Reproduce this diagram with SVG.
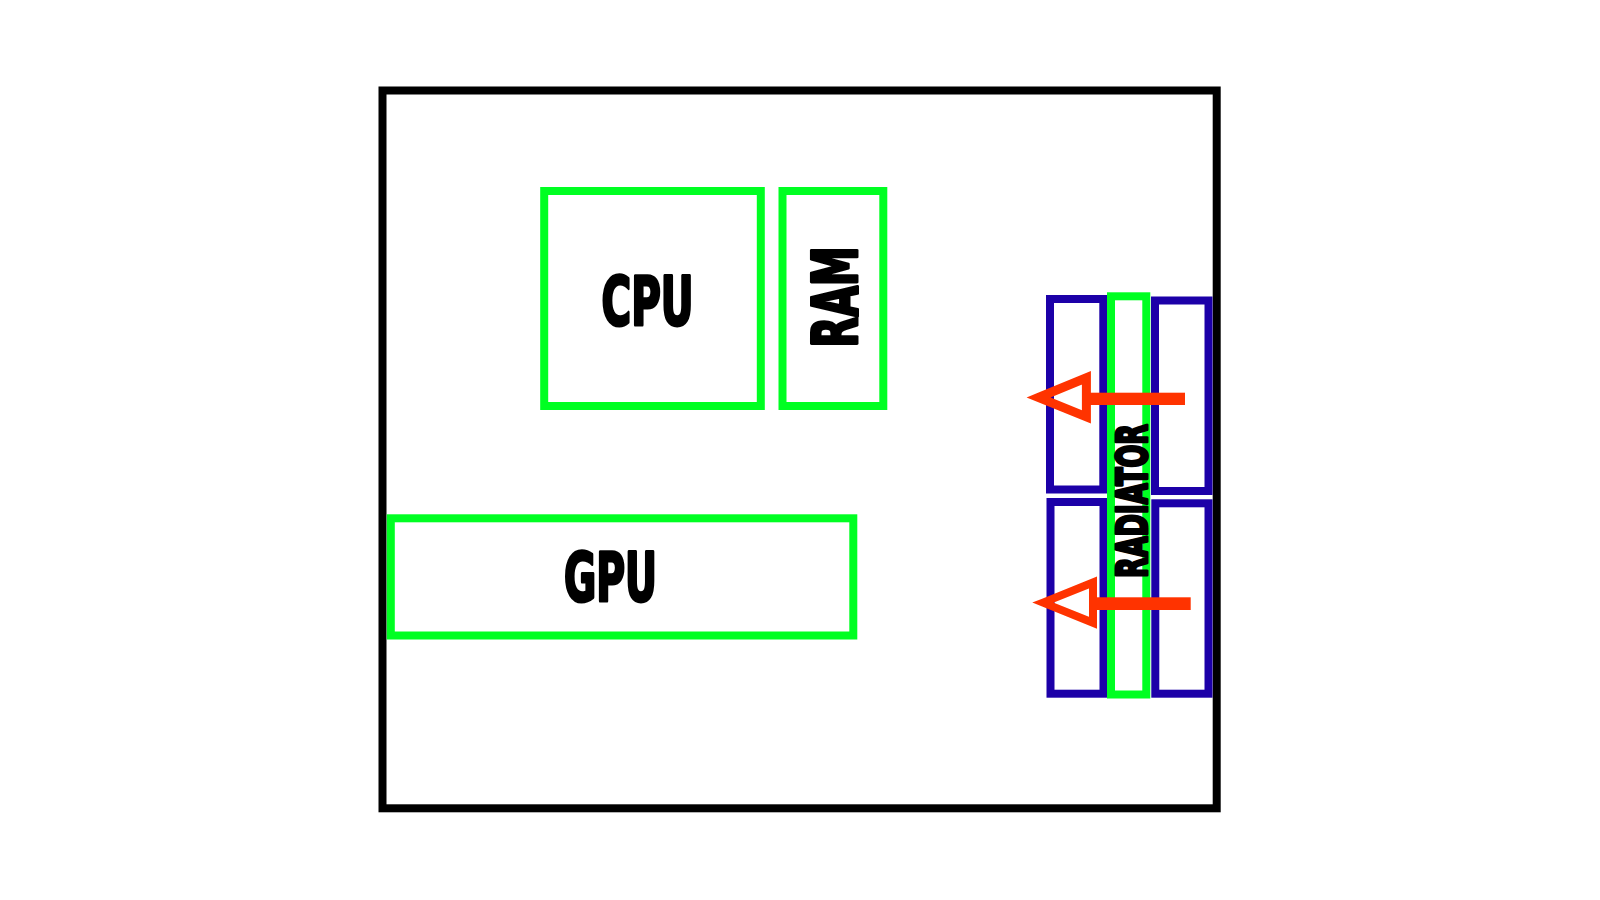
<svg xmlns="http://www.w3.org/2000/svg" width="1600" height="900" viewBox="0 0 1600 900">
  <style>
    .case { fill: none; stroke: #000000; stroke-width: 8; }
    .part { fill: none; stroke: #00ff22; stroke-width: 8; }
    .fan { fill: none; stroke: #1c00a8; stroke-width: 8; }
    .shaft { fill: #ff3300; stroke: none; }
    .head { fill: none; stroke: #ff3300; stroke-linejoin: miter; stroke-miterlimit: 20; }
    .lbl { font-family: "Liberation Sans Narrow", "DejaVu Sans Condensed", "Liberation Sans", sans-serif; font-weight: 900; fill: #000000; stroke: #000000; stroke-width: 3; stroke-linejoin: round; text-anchor: middle; }
  </style>
  <rect x="0" y="0" width="1600" height="900" fill="#ffffff"/>

  <g id="case">
    <rect class="case" x="382.5" y="90.5" width="834.2" height="717.8"/>
  </g>

  <g id="cpu">
    <rect class="part" x="544.2" y="191" width="216.6" height="215"/>
    <text class="lbl" x="647.5" y="325" font-size="67" textLength="92" lengthAdjust="spacingAndGlyphs">CPU</text>
  </g>

  <g id="ram">
    <rect class="part" x="782.5" y="191" width="100.8" height="215"/>
    <text class="lbl" transform="translate(856.8,297) rotate(-90)" x="0" y="0" font-size="63" textLength="101" lengthAdjust="spacingAndGlyphs">RAM</text>
  </g>

  <g id="gpu">
    <rect class="part" x="390.8" y="518.3" width="462.5" height="117.2"/>
    <text class="lbl" x="610.5" y="601" font-size="67" textLength="93" lengthAdjust="spacingAndGlyphs">GPU</text>
  </g>

  <g id="fan-top-left">
    <rect class="fan" x="1050" y="299" width="53.3" height="190.5"/>
  </g>
  <g id="fan-top-right">
    <rect class="fan" x="1155" y="300.5" width="53.5" height="190.5"/>
  </g>
  <g id="fan-bottom-left">
    <rect class="fan" x="1050.5" y="502" width="53" height="191.7"/>
  </g>
  <g id="fan-bottom-right">
    <rect class="fan" x="1155.3" y="503.3" width="53.2" height="190.4"/>
  </g>

  <g id="radiator">
    <rect class="part" x="1111" y="296.3" width="35.3" height="398.2" stroke-width="7.5"/>
    <text class="lbl" transform="translate(1147.3,501) rotate(-90)" x="0" y="0" font-size="43" stroke-width="2" textLength="154" lengthAdjust="spacingAndGlyphs">RADIATOR</text>
  </g>

  <g id="connectors">
    <g id="airflow-top">
      <rect class="shaft" x="1090" y="392.7" width="95" height="12.3"/>
      <polygon class="head" stroke-width="9" points="1038.5,397.5 1086.4,377.8 1086.4,416.9"/>
    </g>
    <g id="airflow-bottom">
      <rect class="shaft" x="1096.7" y="597.3" width="94" height="12.7"/>
      <polygon class="head" stroke-width="8" points="1043,602.6 1093,582.5 1093,622.8"/>
    </g>
  </g>
</svg>
